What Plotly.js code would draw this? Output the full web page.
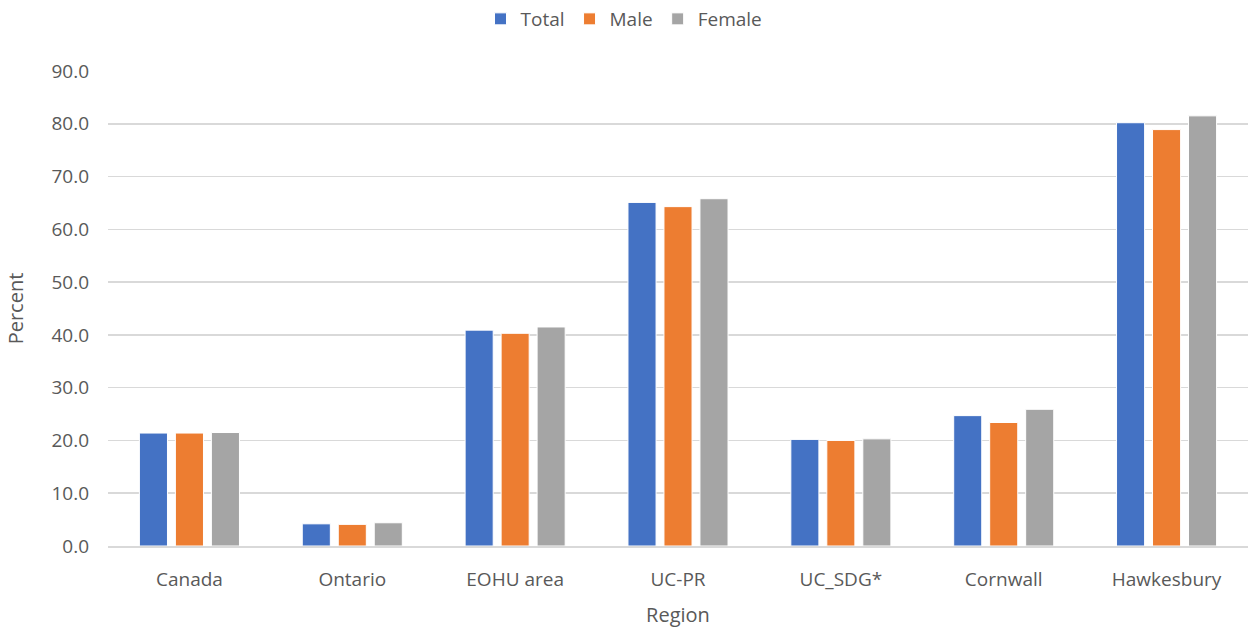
<!DOCTYPE html>
<html>
<head>
<meta charset="utf-8">
<script src="https://cdn.plot.ly/plotly-3.0.1.min.js"></script>
<style>html,body{margin:0;padding:0;background:#fff;}#chart{width:1248px;height:631px;}</style>
</head>
<body>
<div id="chart"></div>
<script>
const regions = ["Canada", "Ontario", "EOHU area", "UC-PR", "UC_SDG*", "Cornwall", "Hawkesbury"];
const totalValues = [21.4, 4.2, 40.9, 65.1, 20.2, 24.7, 80.2];
const maleValues = [21.4, 4.1, 40.3, 64.3, 20.0, 23.4, 78.9];
const femaleValues = [21.5, 4.4, 41.5, 65.8, 20.3, 25.9, 81.5];
const yTicks = [0, 10, 20, 30, 40, 50, 60, 70, 80, 90];

const font = "'Open Sans', 'Liberation Sans', sans-serif";
function bar(name, y, color) {
  return {type: "bar", name: name, x: regions, y: y,
    marker: {color: color, line: {color: "#ffffff", width: 1}},
    hoverinfo: "skip"};
}
const data = [
  bar("Total", totalValues, "#4472c4"),
  bar("Male", maleValues, "#ed7d31"),
  bar("Female", femaleValues, "#a5a5a5")
];
const layout = {
  width: 1248, height: 631,
  margin: {l: 108, r: 0, t: 71, b: 85},
  paper_bgcolor: "#ffffff", plot_bgcolor: "#ffffff",
  barmode: "group", bargap: 0.337, bargroupgap: 0.22,
  font: {family: font, color: "#595959", size: 19},
  showlegend: true,
  legend: {orientation: "h", x: 0.5, xref: "container", xanchor: "center", y: 1, yref: "container", yanchor: "top",
    font: {size: 19, color: "#595959"}, itemwidth: 30, tracegroupgap: 0},
  xaxis: {
    title: {text: "Region", font: {size: 20, color: "#595959"}, standoff: 16},
    showline: true, linecolor: "#d9d9d9", linewidth: 1.5,
    ticks: "", ticklabelstandoff: 16, tickfont: {size: 19, color: "#595959"}, showgrid: false,
    fixedrange: true
  },
  yaxis: {
    title: {text: "Percent", font: {size: 20, color: "#595959"}, standoff: 22},
    range: [0, 90], tickvals: yTicks, ticktext: yTicks.map(v => v.toFixed(1)),
    showgrid: true, gridcolor: "#d9d9d9", gridwidth: 1.5,
    zeroline: false, showline: false, ticks: "", ticklen: 0, ticklabelstandoff: 18,
    tickfont: {size: 19, color: "#595959"}, fixedrange: true
  }
};
Plotly.newPlot("chart", data, layout, {displayModeBar: false, staticPlot: true});
</script>
</body>
</html>
